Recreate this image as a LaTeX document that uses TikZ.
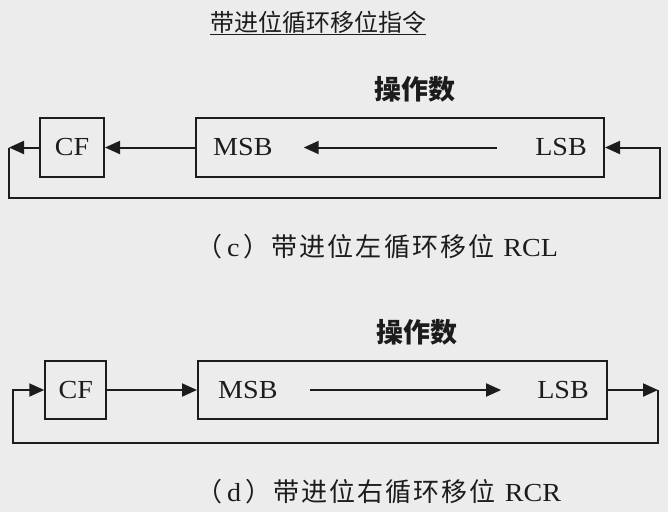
\documentclass[tikz,border=0pt]{standalone}
\usepackage{fontspec}
\setmainfont{Liberation Serif}
\newfontfamily\cjk{Noto Sans CJK SC}
\newfontfamily\cjkwide{Noto Sans CJK SC}[LetterSpace=8]
\newfontfamily\boxfont{Liberation Serif}[FakeStretch=1.08]
\newcommand\latn[1]{{\boxfont\fontsize{26}{26}\selectfont #1}}
\usetikzlibrary{arrows.meta,positioning}

\begin{document}
\begin{tikzpicture}[x=1pt,y=-1pt,
  box/.style={draw=ink, line width=2pt, inner sep=0pt, text=ink,
    font=\boxfont\fontsize{26}{26}\selectfont},
  lbl/.style={text=ink, inner sep=0pt, font=\boxfont\fontsize{26}{26}\selectfont},
  cjklbl/.style={text=ink, inner sep=0pt, font=\cjk\fontsize{27}{27}\selectfont},
  caption/.style={text=ink, inner sep=0pt, anchor=west, font=\cjkwide\fontsize{26}{26}\selectfont},
  arr/.style={draw=ink, line width=2pt, -{Triangle[length=15pt,width=13pt]}}]
\definecolor{ink}{HTML}{1C1C1C}
\definecolor{bg}{HTML}{ECECEC}
\fill[bg] (0,0) rectangle (668,512);
\useasboundingbox (0,0) rectangle (668,512);

\node[cjklbl, font=\cjk\fontsize{24}{24}\selectfont] (title) at (318,23) {\underline{带进位循环移位指令}};

% (c) RCL
\node[cjklbl, font=\cjk\bfseries\fontsize{27}{27}\selectfont] (op1) at (415,89) {操作数};
\node[box, minimum width=64pt, minimum height=59pt] (cf1) at (72,147.5) {CF};
\node[box, minimum width=408pt, minimum height=59pt] (main1) at (400,147.5) {};
\node[lbl, anchor=west] (msb1) at ([xshift=18pt]main1.west) {MSB};
\node[lbl, anchor=east] (lsb1) at ([xshift=-18pt]main1.east) {LSB};
\coordinate (lt1) at (9,147.5);
\coordinate (rb1) at (660,198);
\draw[arr, shorten <=38pt, shorten >=31pt] (lsb1.west) -- (msb1.east);
\draw[arr] (main1.west) -- (cf1.east);
\draw[arr] (cf1.west) -- (lt1);
\draw[arr] (lt1) |- (rb1) |- (main1.east);
\node[caption] (capc) at (196,247)
  {（\hspace{5pt}\latn{c}\hspace{4pt}）带进位左循环移位\hspace{9pt}\latn{RCL}};

% (d) RCR
\node[cjklbl, font=\cjk\bfseries\fontsize{27}{27}\selectfont] (op2) at (417,332) {操作数};
\node[box, minimum width=61pt, minimum height=58pt] (cf2) at (75.75,390) {CF};
\node[box, minimum width=409pt, minimum height=58pt] (main2) at (402.5,390) {};
\node[lbl, anchor=west] (msb2) at ([xshift=21pt]main2.west) {MSB};
\node[lbl, anchor=east] (lsb2) at ([xshift=-19pt]main2.east) {LSB};
\coordinate (rt2) at (658,390);
\coordinate (lb2) at (13,443);
\draw[arr, shorten <=32pt, shorten >=36pt] (msb2.east) -- (lsb2.west);
\draw[arr] (cf2.east) -- (main2.west);
\draw[arr] (main2.east) -- (rt2);
\draw[arr] (rt2) |- (lb2) |- (cf2.west);
\node[caption] (capd) at (196,492)
  {（\hspace{5pt}\latn{d}\hspace{4pt}）带进位右循环移位\hspace{9pt}\latn{RCR}};
\end{tikzpicture}
\end{document}
